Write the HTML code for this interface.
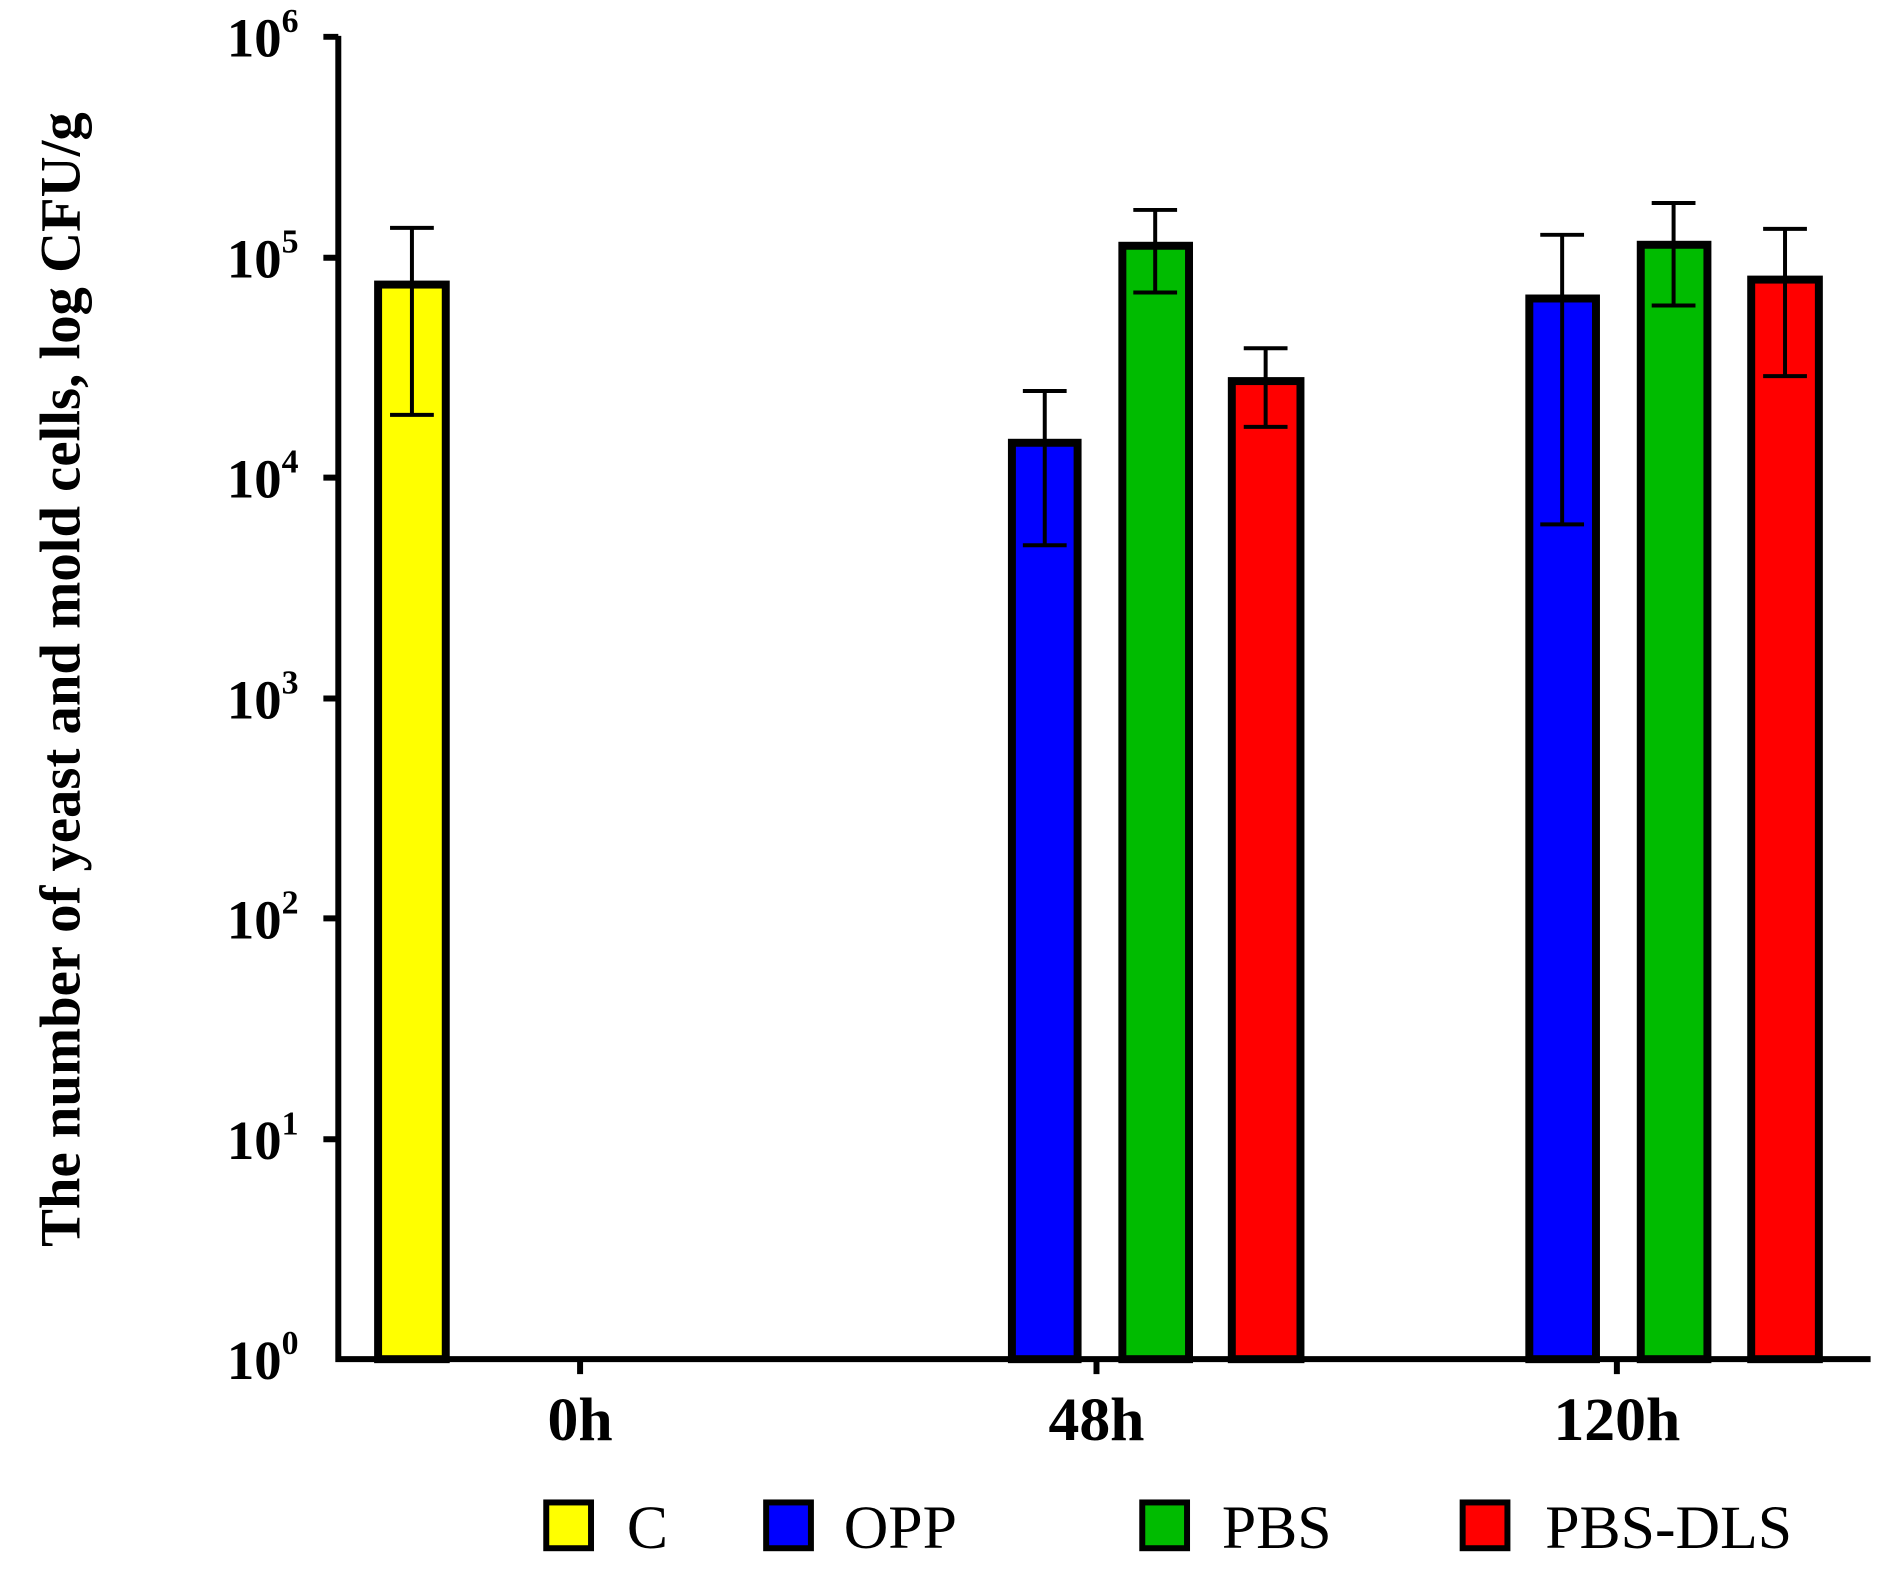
<!DOCTYPE html>
<html><head><style>body{margin:0;background:#fff}</style></head><body>
<svg width="1896" height="1586" xmlns="http://www.w3.org/2000/svg" font-family="Liberation Serif, serif">
<rect width="1896" height="1586" fill="#fff"/>
<g transform="scale(0.995)">
<g stroke="#000" stroke-width="8">
<rect x="380" y="286" width="68" height="1080" fill="#ffff00"/>
<rect x="1017" y="445" width="66" height="921" fill="#0000ff"/>
<rect x="1128" y="247" width="67" height="1119" fill="#00bb00"/>
<rect x="1238" y="383" width="69" height="983" fill="#ff0000"/>
<rect x="1537" y="300" width="67" height="1066" fill="#0000ff"/>
<rect x="1649" y="246" width="67" height="1120" fill="#00bb00"/>
<rect x="1760" y="281" width="68" height="1085" fill="#ff0000"/>
</g>
<g stroke="#000" stroke-width="4" fill="none">
<path d="M414 229V417M392 229H436M392 417H436"/>
<path d="M1050 393V548M1028 393H1072M1028 548H1072"/>
<path d="M1161 211V294M1139 211H1183M1139 294H1183"/>
<path d="M1272 350V429M1250 350H1294M1250 429H1294"/>
<path d="M1570 236V527M1548 236H1592M1548 527H1592"/>
<path d="M1682 204V307M1660 204H1704M1660 307H1704"/>
<path d="M1794 230V378M1772 230H1816M1772 378H1816"/>
</g>
<g stroke="#000" stroke-width="6" fill="none">
<path d="M340 36V1366H1880"/>
<path d="M325 37H340M325 259H340M325 480H340M325 702H340M325 923H340M325 1145H340"/>
<path d="M583 1366V1381M1102 1366V1381M1625 1366V1381"/>
</g>
<g font-weight="bold" font-size="55" text-anchor="end">
<text x="300" y="57">10<tspan font-size="34" dy="-25">6</tspan></text>
<text x="300" y="279">10<tspan font-size="34" dy="-25">5</tspan></text>
<text x="300" y="500">10<tspan font-size="34" dy="-25">4</tspan></text>
<text x="300" y="722">10<tspan font-size="34" dy="-25">3</tspan></text>
<text x="300" y="943">10<tspan font-size="34" dy="-25">2</tspan></text>
<text x="300" y="1165">10<tspan font-size="34" dy="-25">1</tspan></text>
<text x="300" y="1386">10<tspan font-size="34" dy="-25">0</tspan></text>
</g>
<g font-weight="bold" font-size="62" text-anchor="middle">
<text x="583" y="1447">0h</text>
<text x="1102" y="1447">48h</text>
<text x="1625" y="1447">120h</text>
</g>
<text transform="translate(80,683) rotate(-90)" font-weight="bold" font-size="57" text-anchor="middle">The number of yeast and mold cells, log CFU/g</text>
<g stroke="#000" stroke-width="6">
<rect x="549" y="1510" width="45" height="46" fill="#ffff00"/>
<rect x="770" y="1510" width="45" height="46" fill="#0000ff"/>
<rect x="1148" y="1510" width="45" height="46" fill="#00bb00"/>
<rect x="1470" y="1510" width="45" height="46" fill="#ff0000"/>
</g>
<g font-size="62">
<text x="630" y="1556">C</text>
<text x="848" y="1556">OPP</text>
<text x="1228" y="1556">PBS</text>
<text x="1553" y="1556">PBS-DLS</text>
</g>
</g>
</svg>
</body></html>
